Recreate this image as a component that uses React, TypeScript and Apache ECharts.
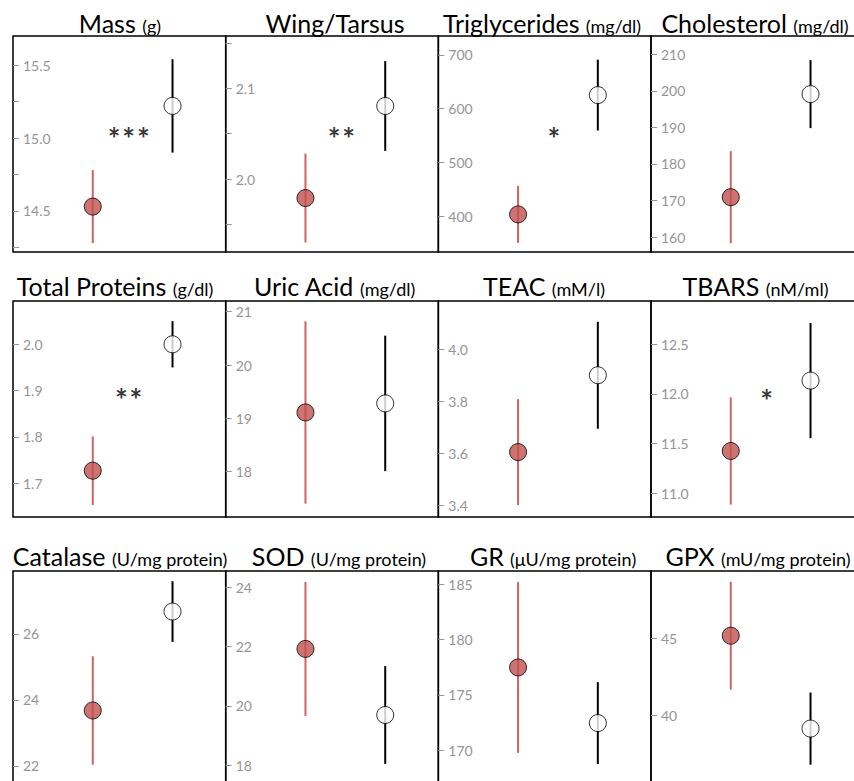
import React, { useEffect, useRef } from "react";
import * as echarts from "echarts";

// ---- data ----
const names = ["Mass", "Wing/Tarsus", "Triglycerides", "Cholesterol", "Total Proteins", "Uric Acid", "TEAC", "TBARS", "Catalase", "SOD", "GR", "GPX"];
const units = ["(g)", "", "(mg/dl)", "(mg/dl)", "(g/dl)", "(mg/dl)", "(mM/l)", "(nM/ml)", "(U/mg protein)", "(U/mg protein)", "(μU/mg protein)", "(mU/mg protein)"];
const groups = [1, 2];
const redMean = [14.53, 1.979, 403, 170.9, 1.727, 19.11, 3.604, 11.425, 23.68, 21.92, 177.48, 45.15];
const redErr = [0.25, 0.049, 53, 12.6, 0.074, 1.71, 0.204, 0.54, 1.645, 2.26, 7.72, 3.5];
const whiteMean = [15.22, 2.0805, 625, 199.1, 2.0, 19.28, 3.9, 12.134, 26.68, 19.69, 172.45, 39.12];
const whiteErr = [0.32, 0.0495, 66, 9.3, 0.05, 1.27, 0.206, 0.58, 0.92, 1.65, 3.7, 2.34];
const axisMin = [14.219, 1.9195, 333, 155.9, 1.627, 17.15, 3.354, 10.76, 21.36, 17.26, 166.67, 35.33];
const axisMax = [15.699, 2.1577, 735, 215, 2.0935, 21.2, 4.186, 12.936, 27.91, 24.55, 186.2, 49.35];
const tickValues = [
  [14.25, 14.5, 14.75, 15, 15.25, 15.5],
  [1.95, 2.0, 2.05, 2.1, 2.15],
  [400, 500, 600, 700],
  [160, 170, 180, 190, 200, 210],
  [1.7, 1.8, 1.9, 2.0],
  [18, 19, 20, 21],
  [3.4, 3.6, 3.8, 4.0],
  [11, 11.5, 12, 12.5],
  [22, 24, 26],
  [18, 20, 22, 24],
  [170, 175, 180, 185],
  [40, 45],
];
const labelValues = [
  [14.5, 15, 15.5],
  [2.0, 2.1],
  [400, 500, 600, 700],
  [160, 170, 180, 190, 200, 210],
  [1.7, 1.8, 1.9, 2.0],
  [18, 19, 20, 21],
  [3.4, 3.6, 3.8, 4.0],
  [11, 11.5, 12, 12.5],
  [22, 24, 26],
  [18, 20, 22, 24],
  [170, 175, 180, 185],
  [40, 45],
];
const decimals = [1, 1, 0, 0, 1, 0, 1, 1, 0, 0, 0, 0];
const signif = ["***", "**", "*", "", "**", "", "", "*", "", "", "", ""];
const signifY = [15.055, 2.054, 560, 0, 1.9, 0, 0, 12.02, 0, 0, 0, 0];
const signifX = 1.45;

// ---- layout ----
const COL_LEFT = [13, 225.7, 438.3, 651];
const ROW_TOP = [36, 301, 571];
const GRID_W = 212.7;
const GRID_H = 216;
const TITLE_CX = [120, 335, 542, 755, 115, 334.5, 544, 755.5, 120, 339, 553, 758];
const TITLE_BASE = [35, 298, 568];
const FONT = "Lato, 'Open Sans', sans-serif";
const RED = "#C0504D";
const RED_BAR = "#D06262";

export default function App() {
  const ref = useRef<HTMLDivElement>(null);
  useEffect(() => {
    if (!ref.current) return;
    const chart = echarts.init(ref.current, null, { renderer: "svg" });
    const grid: any[] = [];
    const xAxis: any[] = [];
    const yAxis: any[] = [];
    const series: any[] = [];
    const graphic: any[] = [];
    names.forEach((name, i) => {
      const r = Math.floor(i / 4);
      const c = i % 4;
      grid.push({
        left: COL_LEFT[c],
        top: ROW_TOP[r],
        width: GRID_W,
        height: GRID_H,
        show: true,
        borderColor: "#000",
        borderWidth: 1.5,
        backgroundColor: "transparent",
        containLabel: false,
        outerBoundsMode: "none",
      });
      xAxis.push({ gridIndex: i, type: "value", min: 0, max: 8 / 3, show: false });
      const dec = decimals[i];
      yAxis.push({
        gridIndex: i,
        type: "value",
        min: axisMin[i],
        max: axisMax[i],
        splitLine: { show: false },
        axisLine: { show: false },
        axisTick: {
          show: true,
          inside: true,
          length: 6,
          customValues: tickValues[i],
          lineStyle: { color: "#959595", width: 1 },
        },
        axisLabel: {
          inside: true,
          margin: 10,
          customValues: labelValues[i],
          color: "#959595",
          fontSize: 14,
          fontFamily: FONT,
          formatter: (v: number) => v.toFixed(dec),
        },
      });
      const errData = [
        [groups[0], redMean[i] - redErr[i], redMean[i] + redErr[i], 0],
        [groups[1], whiteMean[i] - whiteErr[i], whiteMean[i] + whiteErr[i], 1],
      ];
      series.push({
        type: "custom",
        xAxisIndex: i,
        yAxisIndex: i,
        encode: { x: 0, y: [1, 2] },
        data: errData,
        z: 2,
        renderItem: (params: any, api: any) => {
          const x = api.value(0);
          const p1 = api.coord([x, api.value(1)]);
          const p2 = api.coord([x, api.value(2)]);
          return {
            type: "line",
            shape: { x1: p1[0], y1: p1[1], x2: p2[0], y2: p2[1] },
            style: { stroke: api.value(3) ? "#000" : RED_BAR, lineWidth: 2 },
          };
        },
      });
      series.push({
        type: "scatter",
        xAxisIndex: i,
        yAxisIndex: i,
        symbol: "circle",
        symbolSize: 17,
        z: 3,
        data: [
          { value: [groups[0], redMean[i]], itemStyle: { color: RED, borderColor: "#000", borderWidth: 1 } },
          { value: [groups[1], whiteMean[i]], itemStyle: { color: "#fff", borderColor: "#000", borderWidth: 1 } },
        ],
      });
      if (signif[i]) {
        series.push({
          type: "scatter",
          xAxisIndex: i,
          yAxisIndex: i,
          symbolSize: 0,
          z: 4,
          data: [[signifX, signifY[i]]],
          label: {
            show: true,
            position: "inside",
            formatter: () => signif[i].split("").join("\u200A"),
            color: "#000",
            fontSize: 30,
            fontWeight: "bold",
            fontFamily: FONT,
            offset: [0, 8],
          },
        });
      }
      graphic.push({
        type: "text",
        x: TITLE_CX[i],
        y: TITLE_BASE[r],
        style: {
          text: units[i] ? `{a|${name} }{b|${units[i]}}` : `{a|${name}}`,
          align: "center",
          verticalAlign: "bottom",
          rich: {
            a: { fontSize: 25, fontFamily: FONT, fill: "#000", color: "#000", verticalAlign: "bottom" },
            b: { fontSize: 18, fontFamily: FONT, fill: "#000", color: "#000", verticalAlign: "bottom" },
          },
        },
      });
    });
    chart.setOption({
      animation: false,
      backgroundColor: "#fff",
      grid,
      xAxis,
      yAxis,
      series,
      graphic,
    });
    return () => chart.dispose();
  }, []);
  return (
    <div
      ref={ref}
      style={{ position: "absolute", left: 0, top: 0, width: 854, height: 781 }}
    />
  );
}
